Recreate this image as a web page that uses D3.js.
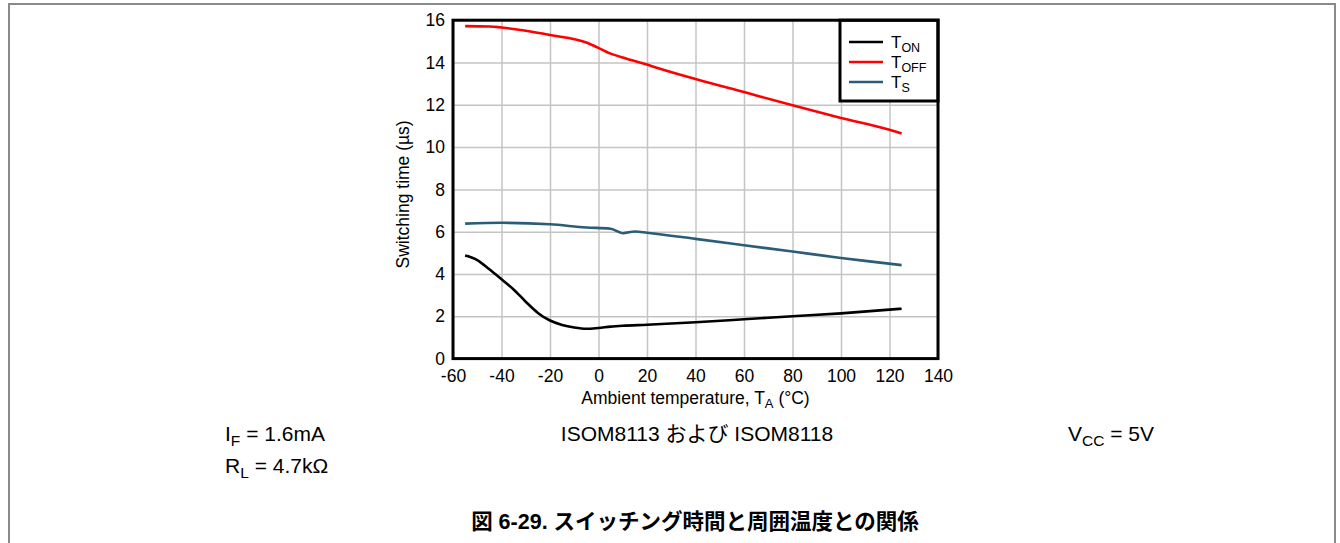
<!DOCTYPE html>
<html>
<head>
<meta charset="utf-8">
<script src="https://cdn.jsdelivr.net/npm/d3@7"></script>
<style>
  body { margin: 0; background: #fff; }
  svg text { font-family: "Liberation Sans", Arial, "Noto Sans CJK JP", sans-serif; fill: #000; }
</style>
</head>
<body>
<svg id="chart" width="1340" height="543"></svg>
<script>
// T_ON (black)
const tempOn = [-55, -50, -45, -40, -35, -30, -25, -20, -15, -10, -5, 0, 5, 10, 20, 40, 60, 80, 100, 125];
const tOn = [4.87, 4.66, 4.22, 3.75, 3.27, 2.69, 2.16, 1.8, 1.59, 1.47, 1.41, 1.45, 1.51, 1.55, 1.6, 1.72, 1.86, 2.0, 2.14, 2.36];

// T_OFF (red)
const tempOff = [-55, -45, -30, -20, -5, 5, 11, 20, 25, 40, 60, 80, 100, 120, 125];
const tOff = [15.72, 15.7, 15.5, 15.3, 14.95, 14.42, 14.2, 13.9, 13.72, 13.22, 12.6, 11.98, 11.38, 10.82, 10.64];

// T_S (blue)
const tempS = [-55, -40, -20, -5, 5, 10, 15, 20, 40, 60, 80, 100, 110, 125];
const tS = [6.38, 6.42, 6.35, 6.2, 6.14, 5.93, 6.01, 5.95, 5.66, 5.36, 5.06, 4.76, 4.62, 4.42];

const xTicks = [-60, -40, -20, 0, 20, 40, 60, 80, 100, 120, 140];
const yTicks = [0, 2, 4, 6, 8, 10, 12, 14, 16];

const seriesNames = [["T", "ON"], ["T", "OFF"], ["T", "S"]];
const seriesColors = ['#000000', '#ff0000', '#2b5d78'];

const svg = d3.select('#chart');

// page frame
svg.append('path')
  .attr('d', 'M9,543 V4 H1335 V543')
  .attr('fill', 'none')
  .attr('stroke', '#8a8a8a')
  .attr('stroke-width', 2);

const plotLeft = 453, plotRight = 938, plotTop = 20.2, plotBottom = 358.6;

const x = d3.scaleLinear().domain([-60, 140]).range([plotLeft, plotRight]);
const y = d3.scaleLinear().domain([0, 16]).range([plotBottom, plotTop]);

// grid
svg.append('g')
  .attr('transform', `translate(0, ${plotBottom})`)
  .call(d3.axisBottom(x).tickValues(xTicks).tickSize(-(plotBottom - plotTop)).tickFormat(''))
  .call(g => g.select('.domain').remove())
  .selectAll('line').attr('stroke', '#c4c4c4').attr('stroke-width', 1.5);

svg.append('g')
  .attr('transform', `translate(${plotLeft}, 0)`)
  .call(d3.axisLeft(y).tickValues(yTicks).tickSize(-(plotRight - plotLeft)).tickFormat(''))
  .call(g => g.select('.domain').remove())
  .selectAll('line').attr('stroke', '#c4c4c4').attr('stroke-width', 1.5);

// tick labels (plain hyphen for negatives, as in the original)
svg.append('g')
  .attr('transform', `translate(0, ${plotBottom})`)
  .call(d3.axisBottom(x).tickValues(xTicks).tickSize(0).tickPadding(11).tickFormat(d => String(d)))
  .call(g => g.select('.domain').remove())
  .selectAll('text').style('font-size', '17.5px');

svg.append('g')
  .attr('transform', `translate(${plotLeft}, 0)`)
  .call(d3.axisLeft(y).tickValues(yTicks).tickSize(0).tickPadding(8).tickFormat(d => String(d)))
  .call(g => g.select('.domain').remove())
  .selectAll('text').style('font-size', '17.5px');

// lines
const line = d3.line()
  .x(d => x(d[0]))
  .y(d => y(d[1]))
  .curve(d3.curveMonotoneX);

const series = [
  d3.zip(tempOn, tOn),
  d3.zip(tempOff, tOff),
  d3.zip(tempS, tS)
];

svg.append('g')
  .selectAll('path')
  .data(series)
  .enter()
  .append('path')
  .attr('d', line)
  .attr('fill', 'none')
  .attr('stroke', (d, i) => seriesColors[i])
  .attr('stroke-width', 2.6);

// legend
const legend = svg.append('g');
legend.append('rect')
  .attr('x', 840).attr('y', plotTop)
  .attr('width', plotRight - 840).attr('height', 101 - plotTop)
  .attr('fill', '#fff')
  .attr('stroke', '#000')
  .attr('stroke-width', 3);

seriesNames.forEach((name, i) => {
  const ly = 42 + i * 20;
  legend.append('line')
    .attr('x1', 849).attr('x2', 883)
    .attr('y1', ly).attr('y2', ly)
    .attr('stroke', seriesColors[i])
    .attr('stroke-width', 2.6);
  const t = legend.append('text')
    .attr('x', 891).attr('y', ly + 6)
    .style('font-size', '17px');
  t.append('tspan').text(name[0]);
  t.append('tspan').attr('dy', 4).style('font-size', '12.5px').text(name[1]);
});

// plot frame
svg.append('rect')
  .attr('x', plotLeft).attr('y', plotTop)
  .attr('width', plotRight - plotLeft).attr('height', plotBottom - plotTop)
  .attr('fill', 'none')
  .attr('stroke', '#000')
  .attr('stroke-width', 3);

// axis titles
svg.append('text')
  .attr('transform', `translate(409, ${(plotTop + plotBottom) / 2 + 5}) rotate(-90)`)
  .attr('text-anchor', 'middle')
  .style('font-size', '17.5px')
  .text('Switching time (µs)');

const xt = svg.append('text')
  .attr('x', (plotLeft + plotRight) / 2)
  .attr('y', 404)
  .attr('text-anchor', 'middle')
  .style('font-size', '17.5px');
xt.append('tspan').text('Ambient temperature, T');
xt.append('tspan').attr('dy', 4).style('font-size', '13px').text('A');
xt.append('tspan').attr('dy', -4).text(' (°C)');

// conditions
const notes = svg.append('g').style('font-size', '21px');

const n1 = notes.append('text').attr('x', 225).attr('y', 441);
n1.append('tspan').text('I');
n1.append('tspan').attr('dy', 5).style('font-size', '15.5px').text('F');
n1.append('tspan').attr('dy', -5).text(' = 1.6mA');

const n2 = notes.append('text').attr('x', 225).attr('y', 473);
n2.append('tspan').text('R');
n2.append('tspan').attr('dy', 5).style('font-size', '15.5px').text('L');
n2.append('tspan').attr('dy', -5).text(' = 4.7kΩ');

notes.append('text')
  .attr('x', 697).attr('y', 441)
  .attr('text-anchor', 'middle')
  .text('ISOM8113 および ISOM8118');

const n3 = notes.append('text').attr('x', 1068).attr('y', 441);
n3.append('tspan').text('V');
n3.append('tspan').attr('dy', 5).style('font-size', '15.5px').text('CC');
n3.append('tspan').attr('dy', -5).text(' = 5V');

svg.append('text')
  .attr('x', 695).attr('y', 529)
  .attr('text-anchor', 'middle')
  .style('font-size', '21.5px')
  .style('font-weight', 'bold')
  .text('図 6-29. スイッチング時間と周囲温度との関係');
</script>
</body>
</html>
